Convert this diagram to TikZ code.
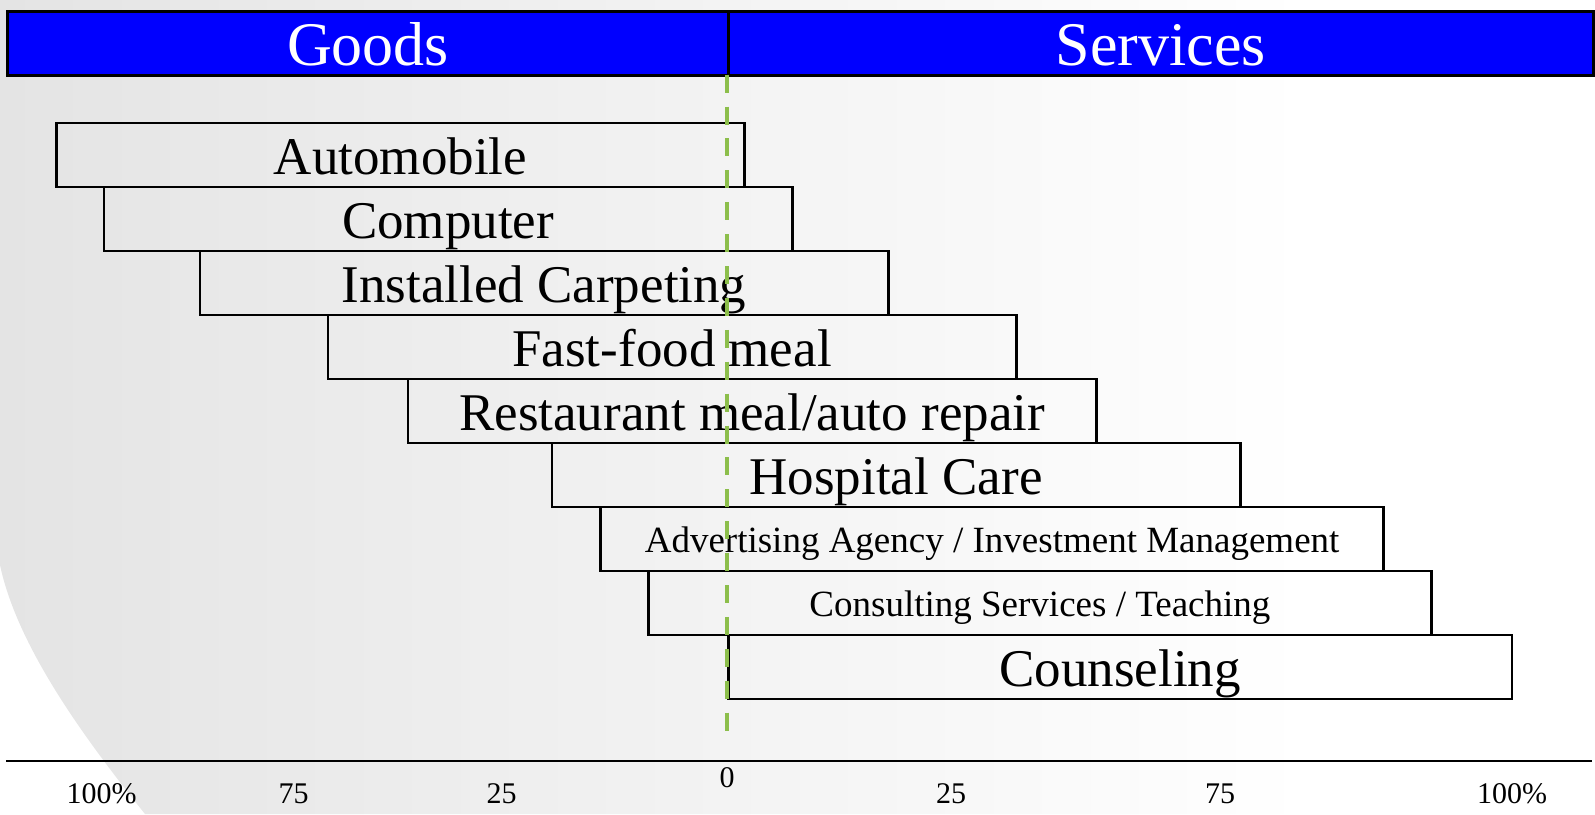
\documentclass[tikz,border=0pt]{standalone}
\usepackage{fontspec}
\setmainfont{Liberation Serif}
\definecolor{hdrblue}{RGB}{0,0,255}
\definecolor{dashgreen}{RGB}{140,190,75}
\definecolor{bgl}{RGB}{228,228,228}
\pgfdeclarehorizontalshading{bgsh}{100bp}{color(0bp)=(bgl); color(25bp)=(bgl); color(66bp)=(white); color(100bp)=(white)}
\begin{document}
\begin{tikzpicture}[x=1pt,y=-1pt,
  hdr/.style={draw=black, fill=hdrblue, line width=3pt, minimum height=64pt, inner sep=0pt,
    anchor=north west, text=white, font=\fontsize{62}{70}\selectfont, text height=44pt, text depth=0pt},
  item/.style={draw=black, line width=2.6pt, minimum height=64pt, inner sep=0pt,
    anchor=north west, text depth=0pt},
  wide/.style={minimum width=688.5pt},
  wider/.style={minimum width=783.2pt},
  bigtxt/.style={font=\fontsize{53}{60}\selectfont, text height=40pt},
  smalltxt/.style={font=\fontsize{37}{42}\selectfont, text height=27pt},
  axlbl/.style={anchor=base, inner sep=0pt, font=\fontsize{30}{34}\selectfont},
  zeroline/.style={draw=dashgreen, line width=4pt, dash pattern=on 18pt off 13.9pt},
  axisline/.style={draw=black, line width=2.6pt}]
\useasboundingbox (0,0) rectangle (1595,814);
% background
\shade[shading=bgsh] (0,0) -- (1595,0) -- (1595,814) -- (145,814)
  .. controls (90,745) and (18,650) .. (0,565) -- cycle;
% header
\node[hdr, minimum width=721pt] (goods) at (6,10) {Goods};
\node[hdr, minimum width=865pt] (services) at (727,10) {Services};
% boxes
\node[item, wide, bigtxt] (b1) at (54.9,121.5) {Automobile};
\node[item, wide, bigtxt] (b2) at (102.5,185.5) {Computer};
\node[item, wide, bigtxt] (b3) at (198.5,249.5) {Installed Carpeting};
\node[item, wide, bigtxt] (b4) at (326.5,313.5) {Fast-food meal};
\node[item, wide, bigtxt] (b5) at (406.5,377.5) {Restaurant meal/auto repair};
\node[item, wide, bigtxt] (b6) at (550.5,441.5) {Hospital Care};
\node[item, wider, smalltxt] (b7) at (599.2,505.5) {Advertising Agency / Investment Management};
\node[item, wider, smalltxt] (b8) at (647,569.5) {Consulting Services / Teaching};
\node[item, wider, bigtxt] (b9) at (727.3,633.5) {Counseling};
% zero line
\coordinate (ztop) at (727,74.6);
\coordinate (zbot) at (727,730.5);
\draw[zeroline] (ztop) -- (zbot);
% axis
\coordinate (axl) at (6,761);
\coordinate (axr) at (1592,761);
\draw[axisline] (axl) -- (axr);
\node[axlbl] (l100) at (101.5,803) {100\%};
\node[axlbl] (l75) at (293.5,803) {75};
\node[axlbl] (l25) at (501.5,803) {25};
\node[axlbl] (l0) at (727,787) {0};
\node[axlbl] (r25) at (951,803) {25};
\node[axlbl] (r75) at (1220,803) {75};
\node[axlbl] (r100) at (1512,803) {100\%};
\end{tikzpicture}
\end{document}
